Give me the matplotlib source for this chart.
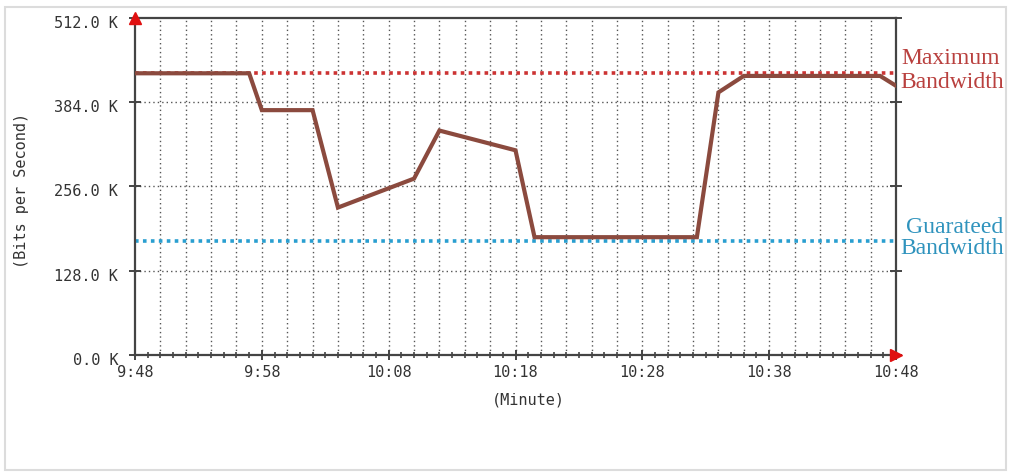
import numpy as np
import matplotlib
matplotlib.use("Agg")
import matplotlib.pyplot as plt
from matplotlib.transforms import ScaledTranslation
from matplotlib.patches import Rectangle

# ---- data ----
minutes = [0, 9, 10, 14, 16, 22, 24, 30, 31.5, 44.3, 46, 48, 58.75, 60]   # minutes after 9:48
rate_k = [428, 428, 372, 372, 224, 268, 341, 311, 179, 179, 399, 424, 424, 409]  # K bits/s
max_bandwidth = 428
guaranteed_bandwidth = 173
x_tick_pos = [0, 10, 20, 30, 40, 50, 60]
x_tick_labels = ["9:48", "9:58", "10:08", "10:18", "10:28", "10:38", "10:48"]
y_tick_pos = [0, 128, 256, 384, 512]
y_tick_labels = ["0.0 K", "128.0 K", "256.0 K", "384.0 K", "512.0 K"]

W, H = 1012, 473
fig = plt.figure(figsize=(W / 100, H / 100), dpi=100)
ax = fig.add_axes([135 / W, 1 - 355 / H, (896 - 135) / W, (355 - 18) / H])

mono = "DejaVu Sans Mono"
axis_col = "#444444"

# grid
for gx in np.arange(2, 60, 2):
    ax.axvline(gx, color="#555555", lw=1.0, ls=(0, (1, 2.2)), zorder=1)
for gy in y_tick_pos[1:-1]:
    ax.axhline(gy, color="#555555", lw=1.0, ls=(0, (1, 2.2)), zorder=1)

# reference lines
ax.axhline(max_bandwidth, color="#cc3333", lw=2.6, ls=(0, (1, 1.2)), zorder=2)
ax.axhline(guaranteed_bandwidth, color="#2a9fd0", lw=2.6, ls=(0, (1, 1.2)), zorder=2)

# data
ax.plot(minutes, rate_k, color="#8b4a3e", lw=3.0, solid_joinstyle="miter", zorder=3)

ax.set_xlim(0, 60)
ax.set_ylim(0, 512)

for s in ax.spines.values():
    s.set_color(axis_col)
    s.set_linewidth(1.6)

ax.set_xticks(x_tick_pos)
ax.set_xticklabels(x_tick_labels, fontfamily=mono, fontsize=11, color="#333333")
ax.set_xticks(np.arange(0, 61, 1), minor=True)
ax.set_yticks(y_tick_pos)
ax.set_yticklabels(y_tick_labels, fontfamily=mono, fontsize=11, color="#333333")

ax.tick_params(axis="x", which="major", direction="inout", length=7, width=1.4,
               color=axis_col, pad=4)
ax.tick_params(axis="x", which="minor", direction="inout", length=4, width=1.2,
               color=axis_col)
ax.tick_params(axis="y", which="major", direction="inout", length=8, width=1.4,
               color=axis_col, pad=8, right=True)

off = ScaledTranslation(0, -4 / 100, fig.dpi_scale_trans)
for lab in ax.get_yticklabels():
    lab.set_transform(lab.get_transform() + off)

# arrows
ax.plot([0], [512], marker="^", color="#e01010", ms=8, clip_on=False, zorder=5)
ax.plot([60], [0], marker=">", color="#e01010", ms=8, clip_on=False, zorder=5)

# axis titles
fig.text(22 / W, 1 - 190 / H, "(Bits per Second)", rotation=90, ha="center",
         va="center", fontfamily=mono, fontsize=11, color="#333333")
fig.text(528 / W, 1 - 400 / H, "(Minute)", ha="center", va="center",
         fontfamily=mono, fontsize=11, color="#333333")

serif = "Liberation Serif"
red_txt = "#b9403e"
blue_txt = "#2f93bd"
fig.text(951 / W, 1 - 59 / H, "Maximum", ha="center", va="center",
         fontfamily=serif, fontsize=17, color=red_txt)
fig.text(952 / W, 1 - 83 / H, "Bandwidth", ha="center", va="center",
         fontfamily=serif, fontsize=17, color=red_txt)
fig.text(955 / W, 1 - 227 / H, "Guarateed", ha="center", va="center",
         fontfamily=serif, fontsize=17, color=blue_txt)
fig.text(952 / W, 1 - 249 / H, "Bandwidth", ha="center", va="center",
         fontfamily=serif, fontsize=17, color=blue_txt)

# outer frame
fig.patches.append(Rectangle((5 / W, 1 - 470 / H), (1006 - 5) / W, (470 - 7) / H,
                             transform=fig.transFigure, fill=False,
                             edgecolor="#dcdcdc", lw=1.5))

fig.savefig("out.png", dpi=100)
